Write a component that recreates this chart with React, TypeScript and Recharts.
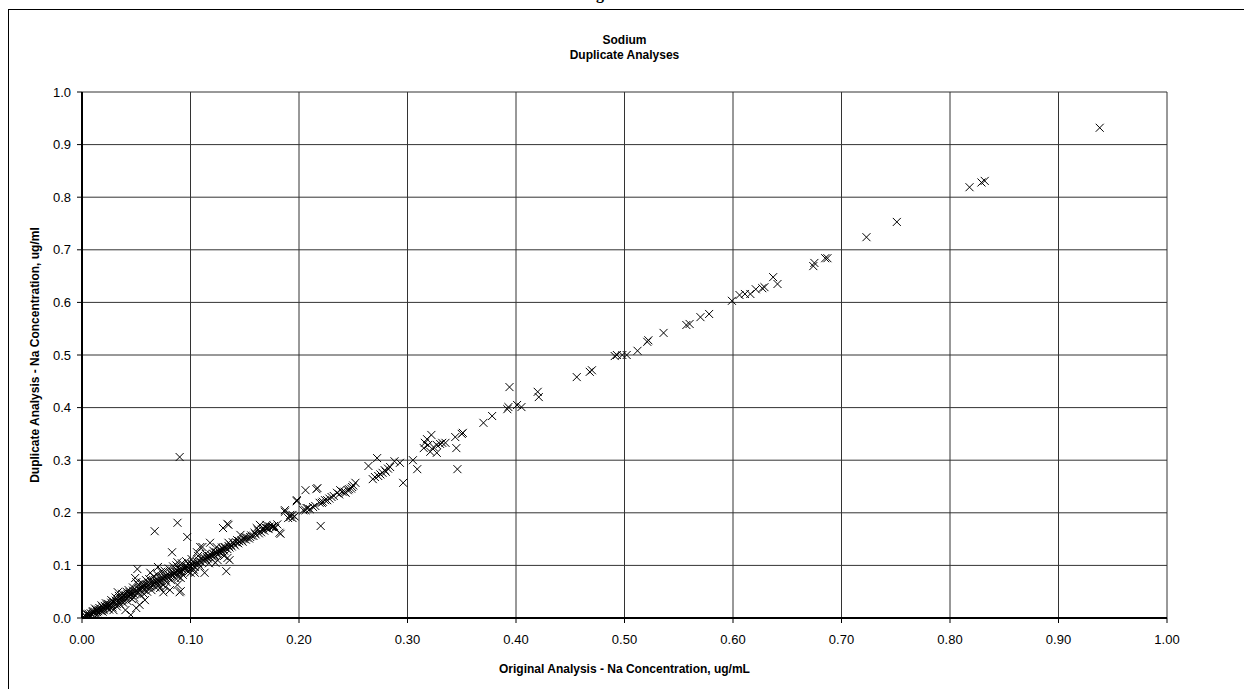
import React from "react";
import { ScatterChart, Scatter, XAxis, YAxis, CartesianGrid } from "recharts";

// [original, duplicate] pairs
const lowRange: [number, number][] = [
  [0.0, 0.0], [0.001, 0.002], [0.002, 0.0], [0.003, 0.004], [0.004, 0.002], [0.005, 0.006],
  [0.006, 0.005], [0.006, 0.008], [0.007, 0.004], [0.008, 0.009], [0.009, 0.007], [0.01, 0.011],
  [0.01, 0.013], [0.011, 0.009], [0.012, 0.012], [0.013, 0.015], [0.014, 0.011], [0.015, 0.016],
  [0.015, 0.013], [0.016, 0.019], [0.017, 0.014], [0.018, 0.017], [0.019, 0.021], [0.02, 0.018],
  [0.02, 0.015], [0.021, 0.023], [0.022, 0.02], [0.023, 0.024], [0.024, 0.019], [0.024, 0.027],
  [0.025, 0.022], [0.026, 0.025], [0.027, 0.029], [0.028, 0.024], [0.029, 0.015], [0.029, 0.031],
  [0.03, 0.028], [0.031, 0.033], [0.032, 0.027], [0.033, 0.034], [0.033, 0.049], [0.034, 0.031],
  [0.035, 0.037], [0.036, 0.038], [0.036, 0.033], [0.037, 0.04], [0.038, 0.035], [0.039, 0.042],
  [0.04, 0.044], [0.04, 0.015], [0.041, 0.038], [0.042, 0.045], [0.043, 0.041], [0.044, 0.049],
  [0.044, 0.046], [0.045, 0.006], [0.045, 0.043], [0.046, 0.048], [0.047, 0.052], [0.048, 0.045],
  [0.049, 0.076], [0.049, 0.05], [0.05, 0.068], [0.05, 0.019], [0.05, 0.053], [0.051, 0.093],
  [0.051, 0.048], [0.052, 0.055], [0.053, 0.025], [0.053, 0.057], [0.054, 0.052], [0.055, 0.058],
  [0.056, 0.059], [0.056, 0.062], [0.057, 0.054], [0.058, 0.034], [0.058, 0.061], [0.059, 0.064],
  [0.06, 0.058], [0.061, 0.063], [0.062, 0.066], [0.063, 0.086], [0.063, 0.06], [0.064, 0.068],
  [0.065, 0.063], [0.066, 0.069], [0.067, 0.165], [0.067, 0.066], [0.068, 0.071], [0.069, 0.067],
  [0.07, 0.097], [0.07, 0.073], [0.071, 0.069], [0.072, 0.057], [0.072, 0.075], [0.073, 0.071],
  [0.074, 0.077], [0.075, 0.049], [0.075, 0.074], [0.076, 0.079], [0.077, 0.059], [0.077, 0.076],
  [0.078, 0.081], [0.079, 0.078], [0.08, 0.082], [0.081, 0.053], [0.081, 0.08], [0.082, 0.085],
  [0.083, 0.125], [0.083, 0.082], [0.084, 0.087], [0.085, 0.084], [0.086, 0.088], [0.087, 0.086],
  [0.088, 0.181], [0.088, 0.063], [0.088, 0.106], [0.088, 0.09], [0.089, 0.087], [0.09, 0.306],
  [0.09, 0.092], [0.09, 0.049], [0.091, 0.076], [0.091, 0.051], [0.091, 0.089], [0.092, 0.094],
  [0.093, 0.091], [0.094, 0.096], [0.095, 0.097], [0.095, 0.093], [0.096, 0.099], [0.097, 0.154],
  [0.097, 0.097], [0.098, 0.095], [0.099, 0.101], [0.1, 0.086], [0.1, 0.098], [0.101, 0.103],
];

// the wider spread of the thick band near the origin
const lowSpread: [number, number][] = [
  [0.004, 0.008], [0.008, 0.003], [0.012, 0.018], [0.014, 0.006], [0.018, 0.024], [0.019, 0.012],
  [0.022, 0.028], [0.025, 0.016], [0.027, 0.034], [0.028, 0.02], [0.031, 0.039], [0.032, 0.022],
  [0.034, 0.042], [0.035, 0.026], [0.037, 0.046], [0.038, 0.029], [0.041, 0.05], [0.042, 0.032],
  [0.043, 0.053], [0.046, 0.036], [0.047, 0.058], [0.048, 0.039], [0.052, 0.063], [0.054, 0.044],
  [0.055, 0.067], [0.057, 0.046], [0.059, 0.072], [0.06, 0.05], [0.062, 0.074], [0.064, 0.053],
  [0.066, 0.079], [0.068, 0.058], [0.069, 0.083], [0.071, 0.062], [0.073, 0.088], [0.074, 0.064],
  [0.076, 0.09], [0.078, 0.068], [0.08, 0.094], [0.082, 0.072], [0.084, 0.098], [0.086, 0.076],
  [0.087, 0.1], [0.089, 0.078], [0.092, 0.104], [0.093, 0.082], [0.096, 0.108], [0.098, 0.088],
  [0.101, 0.112], [0.103, 0.092], [0.107, 0.118], [0.109, 0.098], [0.114, 0.122], [0.117, 0.104],
  [0.121, 0.128], [0.125, 0.11], [0.129, 0.134], [0.131, 0.118],
];

const lowerMidRange: [number, number][] = [
  [0.102, 0.1], [0.103, 0.105], [0.104, 0.097], [0.104, 0.086], [0.105, 0.102], [0.106, 0.125],
  [0.106, 0.107], [0.107, 0.104], [0.108, 0.109], [0.109, 0.135], [0.11, 0.106], [0.111, 0.135],
  [0.111, 0.112], [0.112, 0.11], [0.113, 0.086], [0.113, 0.114], [0.114, 0.111], [0.115, 0.116],
  [0.116, 0.113], [0.117, 0.118], [0.118, 0.143], [0.118, 0.115], [0.119, 0.12], [0.12, 0.117],
  [0.121, 0.122], [0.122, 0.119], [0.123, 0.105], [0.123, 0.124], [0.124, 0.125], [0.124, 0.135],
  [0.125, 0.121], [0.126, 0.127], [0.127, 0.124], [0.128, 0.129], [0.129, 0.126], [0.13, 0.171],
  [0.13, 0.131], [0.131, 0.128], [0.132, 0.135], [0.132, 0.133], [0.133, 0.089], [0.134, 0.179],
  [0.134, 0.114], [0.134, 0.131], [0.135, 0.137], [0.135, 0.143], [0.135, 0.177], [0.136, 0.11],
  [0.136, 0.134], [0.137, 0.139], [0.138, 0.136], [0.139, 0.144], [0.14, 0.141], [0.141, 0.138],
  [0.142, 0.144], [0.143, 0.148], [0.144, 0.142], [0.145, 0.146], [0.146, 0.158], [0.147, 0.148],
  [0.148, 0.145], [0.149, 0.15], [0.15, 0.154], [0.151, 0.149], [0.152, 0.153], [0.154, 0.151],
  [0.155, 0.154], [0.156, 0.157], [0.158, 0.156], [0.159, 0.162], [0.16, 0.159], [0.161, 0.171],
  [0.162, 0.167], [0.163, 0.161], [0.164, 0.177], [0.165, 0.163], [0.166, 0.168], [0.167, 0.171],
  [0.168, 0.166], [0.169, 0.172], [0.17, 0.177], [0.17, 0.171], [0.171, 0.171], [0.172, 0.169],
  [0.173, 0.174], [0.175, 0.173], [0.176, 0.173], [0.177, 0.175], [0.178, 0.171], [0.18, 0.178],
  [0.182, 0.162], [0.183, 0.16],
];

const midRange: [number, number][] = [
  [0.187, 0.202], [0.187, 0.205], [0.19, 0.19], [0.192, 0.192], [0.192, 0.196], [0.194, 0.19],
  [0.194, 0.196], [0.196, 0.193], [0.198, 0.222], [0.198, 0.224], [0.204, 0.205], [0.206, 0.205],
  [0.206, 0.243], [0.207, 0.209], [0.208, 0.209], [0.21, 0.207], [0.213, 0.211], [0.215, 0.213],
  [0.216, 0.245], [0.217, 0.247], [0.219, 0.219], [0.22, 0.175], [0.221, 0.219], [0.222, 0.221],
  [0.224, 0.224], [0.226, 0.224], [0.228, 0.227], [0.23, 0.23], [0.232, 0.232], [0.235, 0.238],
  [0.237, 0.235], [0.238, 0.243], [0.24, 0.24], [0.242, 0.24], [0.243, 0.238], [0.245, 0.243],
  [0.246, 0.245], [0.248, 0.246], [0.249, 0.249], [0.25, 0.252], [0.252, 0.257], [0.264, 0.289],
  [0.268, 0.264], [0.27, 0.268], [0.272, 0.304], [0.273, 0.27], [0.275, 0.273], [0.277, 0.276],
  [0.279, 0.281], [0.28, 0.278], [0.282, 0.284], [0.284, 0.287], [0.288, 0.298], [0.293, 0.295],
  [0.296, 0.257], [0.305, 0.3], [0.309, 0.283], [0.315, 0.323], [0.316, 0.333], [0.318, 0.34],
  [0.319, 0.329], [0.321, 0.316], [0.322, 0.348], [0.324, 0.325], [0.327, 0.314], [0.327, 0.329],
  [0.33, 0.331], [0.332, 0.333], [0.335, 0.333], [0.344, 0.344], [0.345, 0.323], [0.346, 0.283],
  [0.35, 0.35], [0.351, 0.352],
];

const highRange: [number, number][] = [
  [0.37, 0.371], [0.378, 0.384], [0.392, 0.397], [0.393, 0.401], [0.394, 0.439], [0.401, 0.405],
  [0.405, 0.401], [0.42, 0.43], [0.421, 0.42], [0.456, 0.458], [0.468, 0.468], [0.47, 0.471],
  [0.491, 0.498], [0.493, 0.5], [0.498, 0.5], [0.502, 0.5], [0.512, 0.508], [0.521, 0.525],
  [0.522, 0.528], [0.536, 0.542], [0.557, 0.557], [0.56, 0.559], [0.57, 0.572], [0.578, 0.578],
  [0.599, 0.603], [0.606, 0.614], [0.611, 0.616], [0.616, 0.616], [0.621, 0.625], [0.627, 0.627],
  [0.629, 0.629], [0.637, 0.648], [0.641, 0.635], [0.674, 0.669], [0.675, 0.675], [0.685, 0.684],
  [0.687, 0.684], [0.723, 0.724], [0.751, 0.753], [0.818, 0.819], [0.829, 0.828], [0.832, 0.831],
  [0.938, 0.932],
];

const xTicks = [0, 0.1, 0.2, 0.3, 0.4, 0.5, 0.6, 0.7, 0.8, 0.9, 1.0];
const yTicks = [0, 0.1, 0.2, 0.3, 0.4, 0.5, 0.6, 0.7, 0.8, 0.9, 1.0];

const points = [...lowRange, ...lowSpread, ...lowerMidRange, ...midRange, ...highRange].map(
  ([x, y]) => ({ x, y })
);

const font = "Arial, 'Liberation Sans', sans-serif";

const Cross = (props: any) => {
  const { cx, cy } = props;
  if (cx == null || cy == null) return null;
  const r = 4;
  return (
    <path
      d={`M${cx - r},${cy - r}L${cx + r},${cy + r}M${cx - r},${cy + r}L${cx + r},${cy - r}`}
      stroke="#000"
      strokeWidth={1}
      fill="none"
    />
  );
};

export default function App() {
  return (
    <div
      style={{
        position: "absolute",
        left: 0,
        top: 0,
        width: 1244,
        height: 689,
        overflow: "hidden",
        background: "#fff",
        fontFamily: font,
      }}
    >
      {/* page heading, cut off above the frame as in the source */}
      <div
        style={{
          position: "absolute",
          left: 596,
          top: -14,
          fontFamily: "'Liberation Serif', serif",
          fontWeight: 700,
          fontSize: 16,
          lineHeight: "16px",
        }}
      >
        g
      </div>

      <div
        style={{
          position: "absolute",
          left: 8,
          top: 9,
          width: 1300,
          height: 800,
          borderLeft: "1px solid #000",
          borderTop: "1px solid #000",
        }}
      />

      <div
        style={{
          position: "absolute",
          left: 82,
          width: 1085,
          top: 33,
          textAlign: "center",
          fontWeight: 700,
          fontSize: 12,
          lineHeight: "15px",
        }}
      >
        Sodium
        <br />
        Duplicate Analyses
      </div>

      <ScatterChart
        width={1244}
        height={689}
        margin={{ top: 92, right: 77, bottom: 31, left: 22 }}
        style={{ position: "absolute", left: 0, top: 0 }}
      >
        <CartesianGrid stroke="#333" strokeWidth={1} />
        <XAxis
          type="number"
          dataKey="x"
          domain={[0, 1]}
          ticks={xTicks}
          allowDataOverflow
          tickFormatter={(v: number) => v.toFixed(2)}
          axisLine={{ stroke: "#000", strokeWidth: 2 }}
          tickLine={{ stroke: "#000" }}
          tickSize={5}
          tickMargin={12}
          tick={{ fill: "#000", fontSize: 13, fontFamily: font }}
          height={40}
        />
        <YAxis
          type="number"
          dataKey="y"
          domain={[0, 1]}
          ticks={yTicks}
          allowDataOverflow
          tickFormatter={(v: number) => v.toFixed(1)}
          axisLine={{ stroke: "#000", strokeWidth: 2 }}
          tickLine={{ stroke: "#000" }}
          tickSize={5}
          tickMargin={6}
          tick={{ fill: "#000", fontSize: 13, fontFamily: font }}
          width={60}
        />
        <Scatter data={points} shape={Cross} isAnimationActive={false} />
      </ScatterChart>

      <div
        style={{
          position: "absolute",
          left: 82,
          width: 1085,
          top: 662,
          textAlign: "center",
          fontWeight: 700,
          fontSize: 12,
        }}
      >
        Original Analysis - Na Concentration, ug/mL
      </div>

      <div
        style={{
          position: "absolute",
          left: 35 - 250,
          top: 355 - 8,
          width: 500,
          height: 16,
          lineHeight: "16px",
          textAlign: "center",
          fontWeight: 700,
          fontSize: 12,
          transform: "rotate(-90deg)",
          transformOrigin: "center",
        }}
      >
        Duplicate Analysis - Na Concentration, ug/ml
      </div>
    </div>
  );
}
